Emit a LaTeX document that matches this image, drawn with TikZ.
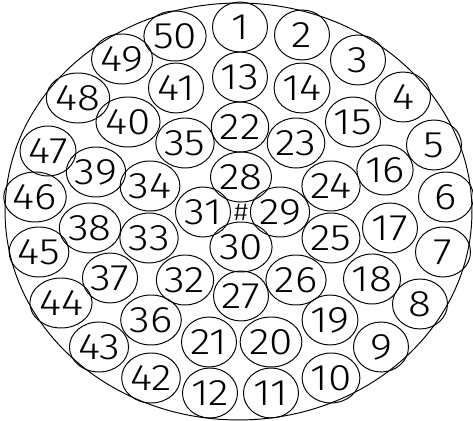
\documentclass[tikz,border=0pt]{standalone}
\usepackage{fontspec}
\newfontfamily\cadfont[FakeStretch=1.15]{Fira Sans Light}
\usetikzlibrary{shapes.geometric}

\begin{document}
\begin{tikzpicture}[
    x=0.02cm, y=-0.02cm,
    line width=0.55pt,
    every node/.style={font=\cadfont\fontsize{21}{21}\selectfont},
    wire/.style={ellipse, draw, inner sep=0pt,
                 minimum width=1.1cm, minimum height=1.0cm},
    sheath/.style={ellipse, draw, inner sep=0pt,
                   minimum width=9.34cm, minimum height=8.34cm}
]
    \useasboundingbox (0,0) rectangle (473,421);
    \node[sheath] (jacket) at (238.5,211.5) {};
    \node[font=\cadfont\fontsize{14}{14}\selectfont] (hub) at (241,212) {\#};
    % outer ring
    \node[wire] (w1) at (240,27) {1};
    \node[wire] (w2) at (302,35) {2};
    \node[wire] (w3) at (358,60) {3};
    \node[wire] (w4) at (403,97) {4};
    \node[wire] (w5) at (434,145) {5};
    \node[wire] (w6) at (446,197) {6};
    \node[wire] (w7) at (443,252) {7};
    \node[wire] (w8) at (420,304) {8};
    \node[wire] (w9) at (381,347) {9};
    \node[wire] (w10) at (331,378) {10};
    \node[wire] (w11) at (271,393) {11};
    \node[wire] (w12) at (210,393) {12};
    \node[wire] (w42) at (151,378) {42};
    \node[wire] (w43) at (99,347) {43};
    \node[wire] (w44) at (61,303) {44};
    \node[wire] (w45) at (39,252) {45};
    \node[wire] (w46) at (35,197) {46};
    \node[wire] (w47) at (48,151) {47};
    \node[wire] (w48) at (78,98) {48};
    \node[wire] (w49) at (122,59) {49};
    \node[wire] (w50) at (175,36) {50};
    % middle ring
    \node[wire] (w13) at (240,77) {13};
    \node[wire] (w14) at (302,88) {14};
    \node[wire] (w15) at (353,122) {15};
    \node[wire] (w16) at (385,170) {16};
    \node[wire] (w17) at (390,228) {17};
    \node[wire] (w18) at (372,279) {18};
    \node[wire] (w19) at (330,320) {19};
    \node[wire] (w20) at (271,342) {20};
    \node[wire] (w21) at (209,342) {21};
    \node[wire] (w36) at (151,320) {36};
    \node[wire] (w37) at (110,278) {37};
    \node[wire] (w38) at (90,228) {38};
    \node[wire] (w39) at (96,172) {39};
    \node[wire] (w40) at (128,122) {40};
    \node[wire] (w41) at (176,88) {41};
    % inner ring
    \node[wire] (w22) at (240,127) {22};
    \node[wire] (w23) at (296,143) {23};
    \node[wire] (w24) at (331,186) {24};
    \node[wire] (w25) at (331,238) {25};
    \node[wire] (w26) at (296,280) {26};
    \node[wire] (w27) at (241,296) {27};
    \node[wire] (w32) at (185,280) {32};
    \node[wire] (w33) at (149,238) {33};
    \node[wire] (w34) at (150,186) {34};
    \node[wire] (w35) at (185,143) {35};
    % core
    \node[wire] (w28) at (241,177) {28};
    \node[wire] (w29) at (280,212) {29};
    \node[wire] (w30) at (241,247) {30};
    \node[wire] (w31) at (203,212) {31};
\end{tikzpicture}
\end{document}
